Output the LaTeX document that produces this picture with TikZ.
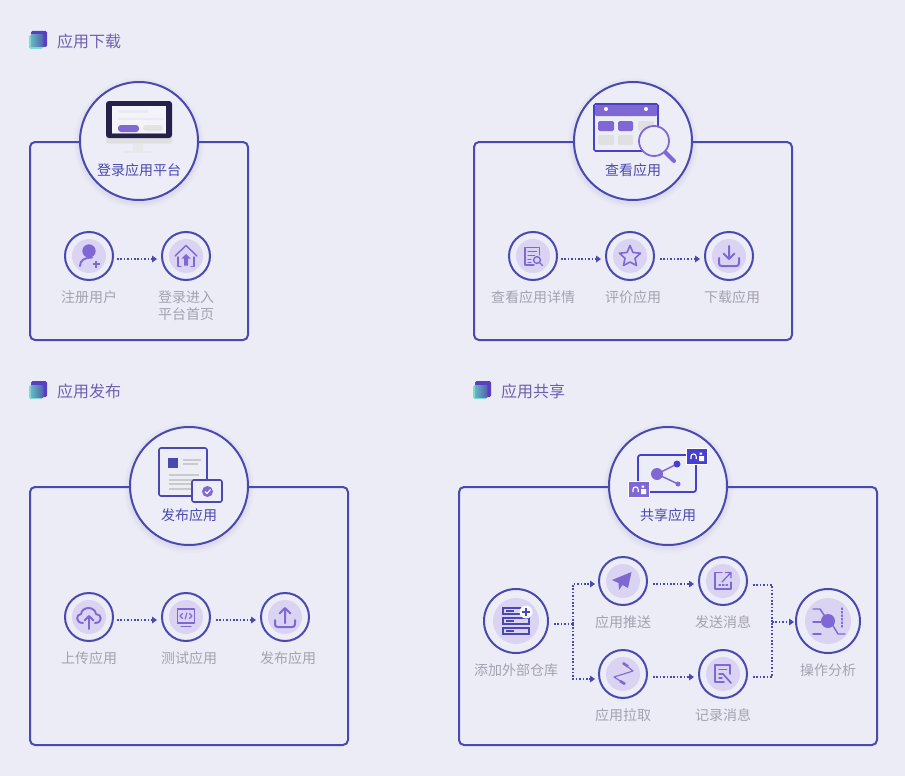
\documentclass[tikz,border=0pt]{standalone}
\usepackage{fontspec}
\setmainfont{Noto Sans CJK SC}
\usetikzlibrary{arrows.meta}
\definecolor{bgc}{HTML}{ECECF6}
\definecolor{fillc}{HTML}{EDEDF7}
\definecolor{linec}{HTML}{4B48B0}
\definecolor{icon}{HTML}{8068D4}
\definecolor{pale}{HTML}{DAD4F2}
\definecolor{graytxt}{HTML}{A5A1B0}
\definecolor{headtxt}{HTML}{6F5FB0}
\definecolor{greyb}{HTML}{E0E0E2}
\definecolor{blue2}{HTML}{4540D0}
\definecolor{navy}{HTML}{25214A}
\definecolor{teal2}{HTML}{6FD8C8}
\definecolor{dark2}{HTML}{5A3FC0}
\tikzset{
  panel/.style={draw=linec,line width=2pt,rounded corners=5pt,fill=none},
  bigc/.style={circle,draw=linec,line width=2pt,fill=fillc,minimum size=118pt,inner sep=0pt},
  smallc/.style={circle,draw=linec,line width=2pt,fill=fillc,minimum size=48pt,inner sep=0pt},
  hugec/.style={circle,draw=linec,line width=2pt,fill=fillc,minimum size=64pt,inner sep=0pt},
  bigt/.style={text=linec,font=\fontsize{14}{17}\selectfont,inner sep=0pt},
  lab/.style={text=graytxt,font=\fontsize{14}{17}\selectfont,inner sep=0pt,align=center},
  headt/.style={text=headtxt,font=\fontsize{16}{19}\selectfont,inner sep=0pt,anchor=west},
  conn/.style={draw=linec,line width=1.5pt,dash pattern=on 1.6pt off 1.8pt},
  connar/.style={conn,-{Triangle[length=5pt,width=7pt,fill=linec,line width=0pt]}},
  ic/.style={draw=icon,line width=1.4pt,line cap=round,line join=round,fill=none},
  icf/.style={fill=icon,draw=none},
}
\newcommand{\palec}[3]{\fill[pale] (#1,#2) circle (#3);}
\newcommand{\glowc}[2]{\foreach \r/\o in {65/.02,63/.03,61/.04}{\fill[linec,opacity=\o] (#1,#2+2) circle (\r);}}
\newcommand{\headmark}[2]{%
  \fill[dark2,rounded corners=1.5pt] (#1,#2) rectangle ++(16,16);
  \fill[teal2,opacity=.85,rounded corners=1.5pt] (#1-2,#2+4) rectangle ++(14,14);
  \shade[left color=teal2!75!linec,right color=linec!80!teal2] (#1,#2+4) rectangle ++(12,12);}
\begin{document}
\begin{tikzpicture}[x=1pt,y=-1pt]
\useasboundingbox (0,0) rectangle (905,776);
\fill[bgc] (0,0) rectangle (905,776);

% headings
\headmark{31}{31}\node[headt] (h1) at (57,41) {应用下载};
\headmark{31}{381}\node[headt] (h3) at (57,391) {应用发布};
\headmark{475}{381}\node[headt] (h4) at (501,391) {应用共享};

% panels
\draw[panel] (30,142) rectangle (248,340);
\draw[panel] (474,142) rectangle (792,340);
\draw[panel] (30,487) rectangle (348,745);
\draw[panel] (459,487) rectangle (877,745);

% big circles
\glowc{139}{141}\glowc{633}{141}\glowc{189}{486}\glowc{668}{486}
\node[bigc] (c1) at (139,141) {};
\node[bigc] (c2) at (633,141) {};
\node[bigc] (c3) at (189,486) {};
\node[bigc] (c4) at (668,486) {};
\node[bigt] (t1) at (139,170) {登录应用平台};
\node[bigt] (t2) at (633,170) {查看应用};
\node[bigt] (t3) at (189,515) {发布应用};
\node[bigt] (t4) at (668,515) {共享应用};

% monitor icon
\fill[greyb,rounded corners=2pt] (106,130) rectangle (172,143.5);
\fill[navy,rounded corners=3pt] (106,101) -- (172,101) -- (172,138) -- (106,138) -- cycle;
\fill[fillc!70!white] (112,105.5) rectangle (166,133.5);
\draw[navy!50!bgc,line width=.8pt] (112,133.5) -- (166,133.5);
\fill[greyb!25!fillc] (118,110) rectangle (148,113);
\fill[greyb!20!fillc] (118,118) rectangle (164,120);
\fill[icon,rounded corners=3pt] (118,125) rectangle (139,132);
\fill[greyb!80!fillc,rounded corners=3pt] (143,125) rectangle (163,131);
\fill[greyb!50!fillc] (133,143.5) rectangle (143,151);
\fill[greyb!50!fillc] (124,151) rectangle (153,153);

% calendar icon
\draw[linec!30!blue2,line width=1.6pt,fill=fillc,rounded corners=1.5pt] (594,104) rectangle (658,151);
\fill[icon,rounded corners=1pt] (595,105) rectangle (657,116);
\fill[white] (606,109) circle (2) (646,109) circle (2);
\fill[icon,rounded corners=1.5pt] (598,121) rectangle (614,131);
\fill[icon,rounded corners=1.5pt] (618,121) rectangle (633,131);
\fill[greyb,rounded corners=1.5pt] (638,121) rectangle (654,131);
\fill[greyb,rounded corners=1.5pt] (598,135) rectangle (614,145);
\fill[greyb,rounded corners=1.5pt] (618,135) rectangle (633,145);
\draw[icon,line width=4pt,line cap=round] (665,152) -- (674,161);
\draw[icon,line width=1.8pt,fill=fillc] (654,141) circle (15);

% publish icon
\draw[linec,line width=1.6pt,fill=fillc,rounded corners=2pt] (159,448) rectangle (207,496);
\fill[linec] (168,458) rectangle (178,468);
\draw[greyb!90!black,line width=1.2pt] (183,460) -- (201,460) (183,464) -- (198,464)
  (169,475) -- (199,475) (169,480) -- (199,480) (169,484) -- (199,484) (169,489) -- (192,489);
\draw[linec,line width=1.6pt,fill=fillc,rounded corners=2pt] (192,480) rectangle (222,502);
\fill[icon] (207.5,491.5) circle (5.5);
\draw[white,line width=1.1pt] (205,491.5) -- (207,493.5) -- (210.5,489.5);

% share icon
\draw[blue2,line width=1.8pt,rounded corners=2.5pt] (638,455) rectangle (696,492);
\draw[icon,line width=1.5pt] (657,474) -- (677,464);
\draw[icon,line width=1.5pt] (657,474) -- (678,484);
\fill[icon] (657,474) circle (6) (678,484) circle (2.5);
\fill[blue2] (677,464) circle (3.5);
\draw[white,line width=1pt,fill=blue2] (686.5,448.5) rectangle (707.5,464.5);
\draw[white,line width=1.1pt] (691,459) -- (691,456.5) arc (180:360:2.6) -- (696.2,459);
\fill[white] (699.5,452.5) rectangle (702,454.5) (699,456) rectangle (704,461);
\draw[white,line width=1pt,fill=icon] (628.5,481.5) rectangle (649.5,497.5);
\draw[white,line width=1.1pt] (633,492) -- (633,489.5) arc (180:360:2.6) -- (638.2,492);
\fill[white] (641.5,485.5) rectangle (644,487.5) (641,489) rectangle (646,494);

% small circles
\node[smallc] (a1) at (89,256) {};
\node[smallc] (a2) at (186,256) {};
\node[smallc] (b1) at (533,256) {};
\node[smallc] (b2) at (630,256) {};
\node[smallc] (b3) at (729,256) {};
\node[smallc] (p1) at (89,617) {};
\node[smallc] (p2) at (186,617) {};
\node[smallc] (p3) at (285,617) {};
\node[hugec] (s0) at (516,621) {};
\node[smallc] (s1) at (623,581) {};
\node[smallc] (s2) at (723,581) {};
\node[smallc] (s3) at (623,674) {};
\node[smallc] (s4) at (723,674) {};
\node[hugec] (s5) at (828,621) {};
\foreach \x/\y in {89/256,186/256,533/256,630/256,729/256,89/617,186/617,285/617,623/581,723/581,623/674,723/674}{\palec{\x}{\y}{17}}
\palec{516}{621}{23}\palec{828}{621}{23}

% labels
\node[lab] (la1) at (89,297) {注册用户};
\node[lab,anchor=north] (la2) at (186,290.5) {登录进入\\平台首页};
\node[lab] (lb1) at (533,297) {查看应用详情};
\node[lab] (lb2) at (633,297) {评价应用};
\node[lab] (lb3) at (732,297) {下载应用};
\node[lab] (lp1) at (89,658) {上传应用};
\node[lab] (lp2) at (189,658) {测试应用};
\node[lab] (lp3) at (288,658) {发布应用};
\node[lab] (ls0) at (516,670) {添加外部仓库};
\node[lab] (ls1) at (623,622) {应用推送};
\node[lab] (ls2) at (723,622) {发送消息};
\node[lab] (ls3) at (623,715) {应用拉取};
\node[lab] (ls4) at (723,715) {记录消息};
\node[lab] (ls5) at (828,670) {操作分析};

% connectors
\draw[connar] ([shift={(3,3)}]a1.east) -- ([shift={(-4,3)}]a2.west);
\draw[connar] ([shift={(3,3)}]b1.east) -- ([shift={(-4,3)}]b2.west);
\draw[connar] ([shift={(5,3)}]b2.east) -- ([shift={(-4,3)}]b3.west);
\draw[connar] ([shift={(3,3)}]p1.east) -- ([shift={(-4,3)}]p2.west);
\draw[connar] ([shift={(5,3)}]p2.east) -- ([shift={(-4,3)}]p3.west);
\coordinate (jl) at (573,624);
\coordinate (jr) at (772,622);
\draw[conn] ([shift={(5,3)}]s0.east) -- (jl);
\draw[connar] (jl) |- ([shift={(-3,3)}]s1.west);
\draw[connar] (jl) |- ([shift={(-3,5)}]s3.west);
\draw[connar] ([shift={(5,3)}]s1.east) -- ([shift={(-4,3)}]s2.west);
\draw[connar] ([shift={(5,3)}]s3.east) -- ([shift={(-4,3)}]s4.west);
\draw[conn] ([shift={(5,4)}]s2.east) -| (jr);
\draw[conn] ([shift={(5,3)}]s4.east) -| (jr);
\draw[connar] (jr) -- ([shift={(-1,1)}]s5.west);

% --- small icons ---
% register user
\begin{scope}[shift={(89,256)}]
\fill[icon] (0,-5) circle (6.7);
\draw[ic,line width=1.9pt] (-9,10) .. controls (-9,4) and (-4,1.5) .. (3,1.5);
\draw[icon,line width=2pt] (3.5,8) -- (10.5,8) (7,4.5) -- (7,11.5);
\end{scope}
% home
\begin{scope}[shift={(186,256)}]
\draw[ic] (-11,0) -- (0,-10.5) -- (11,0);
\draw[ic] (-8,1) -- (-8,10.5) -- (-5,10.5) (8,1) -- (8,10.5) -- (5,10.5);
\fill[icon] (0,-2) -- (4.5,2.5) -- (2,2.5) -- (2,9.5) -- (-2,9.5) -- (-2,2.5) -- (-4.5,2.5) -- cycle;
\end{scope}
% doc search
\begin{scope}[shift={(533,256)}]
\draw[ic] (6.5,-1) -- (6.5,-8.5) -- (-8,-8.5) -- (-8,9) -- (1,9);
\draw[ic] (-5,-4.5) -- (3.5,-4.5) (-5,-0.5) -- (1.5,-0.5) (-5,3.5) -- (-2,3.5) (-5,6.5) -- (-2,6.5);
\draw[ic] (4,4) circle (3.4);
\draw[ic] (6.5,6.5) -- (9.5,9.5);
\end{scope}
% star
\begin{scope}[shift={(630,256)}]
\draw[ic,line width=1.6pt] (0,-10.5) -- (3,-3.5) -- (10.5,-2.8) -- (5,2.3) -- (6.5,9.5) -- (0,6) -- (-6.5,9.5) -- (-5,2.3) -- (-10.5,-2.8) -- (-3,-3.5) -- cycle;
\end{scope}
% download
\begin{scope}[shift={(729,256)}]
\draw[ic,line width=2pt] (0,-10) -- (0,3) (-5.5,-2.5) -- (0,3) -- (5.5,-2.5);
\draw[ic,line width=2pt] (-10,2) -- (-10,7) .. controls (-10,9.5) and (-9,10) .. (-7,10) -- (7,10) .. controls (9,10) and (10,9.5) .. (10,7) -- (10,2);
\end{scope}
% cloud upload
\begin{scope}[shift={(89,617)}]
\draw[ic,line width=1.9pt] (-6,6) .. controls (-14,6) and (-13,-3) .. (-8,-3) .. controls (-7,-11) and (6,-11) .. (7,-3) .. controls (13,-3) and (14,6) .. (6,6);
\draw[ic,line width=1.9pt] (0,12) -- (0,-1) (-4.5,3.5) -- (0,-1) -- (4.5,3.5);
\end{scope}
% code screen
\begin{scope}[shift={(186,617)}]
\draw[ic,line width=1.2pt] (-8.5,-8) rectangle (8.5,6);
\draw[ic,line width=1.2pt] (-5,9.5) -- (5,9.5);
\draw[ic,line width=1.1pt] (-3.5,-3.5) -- (-6,-1) -- (-3.5,1.5) (3.5,-3.5) -- (6,-1) -- (3.5,1.5) (0.8,-4) -- (-0.8,2);
\end{scope}
% upload
\begin{scope}[shift={(285,617)}]
\draw[ic,line width=2pt] (0,6) -- (0,-9) (-5.5,-3.5) -- (0,-9) -- (5.5,-3.5);
\draw[ic,line width=2pt] (-10,3) -- (-10,7) .. controls (-10,9.5) and (-9,10) .. (-7,10) -- (7,10) .. controls (9,10) and (10,9.5) .. (10,7) -- (10,3);
\end{scope}
% storage + plus
\begin{scope}[shift={(516,621)}]
\draw[linec,line width=1.5pt] (-13,-13) rectangle (13,-7) (-13,-3) rectangle (13,3) (-13,7) rectangle (13,13);
\draw[linec,line width=1.5pt] (-10,-10) -- (-2,-10) (-10,0) -- (-2,0) (-10,10) -- (-2,10);
\fill[white!70!fillc] (10,-9) circle (6.5);
\draw[linec,line width=1.6pt] (6,-9) -- (14,-9) (10,-13) -- (10,-5);
\end{scope}
% paper plane
\begin{scope}[shift={(623,581)}]
\fill[icon] (8.5,-9) -- (-11,-1) -- (-4.5,2) -- (-4,9) -- (-0.5,4) -- (5,7) -- cycle;
\end{scope}
% export box
\begin{scope}[shift={(723,581)}]
\draw[ic,line width=1.3pt] (-1,-8.5) -- (-8,-8.5) -- (-8,8) -- (8,8) -- (8,1);
\draw[ic,line width=1.3pt] (-1,1) -- (8,-8.5) (2.5,-8.5) -- (8,-8.5) -- (8,-3);
\draw[ic,line width=1.3pt,dash pattern=on 1.5pt off 2pt] (-4,4) -- (5,4);
\end{scope}
% zigzag pull
\begin{scope}[shift={(623,674)}]
\draw[ic,line width=1.1pt] (0,-11) -- (10,-3) -- (-9,3) -- (2,10);
\draw[icon,line width=2.6pt] (0,-11) -- (5,-7.5) (-3,7) -- (2,10) ;
\end{scope}
% record
\begin{scope}[shift={(723,674)}]
\draw[ic,line width=1.7pt] (7,0) -- (7,-9) -- (-8,-9) -- (-8,8) -- (1,8);
\draw[ic,line width=1.5pt] (-4,-4.5) -- (3.5,-4.5) (-4,0) -- (0,0) (-4,4) -- (-1,4);
\draw[ic,line width=1.7pt] (0,0) -- (8,9);
\end{scope}
% analysis
\begin{scope}[shift={(828,621)}]
\draw[ic,line width=1.4pt] (-15,-12) -- (-8,-12) -- (-2,-3);
\draw[ic,line width=1.4pt] (-15,1) -- (-7,1);
\draw[ic,line width=1.4pt] (-15,13) -- (-7,13);
\draw[ic,line width=1.4pt] (4,3) -- (10,13) -- (17,13);
\draw[ic,line width=1.3pt,dash pattern=on 1.5pt off 2pt] (14,-13) -- (14,6);
\fill[icon] (0,0) circle (7);
\end{scope}
\end{tikzpicture}
\end{document}
